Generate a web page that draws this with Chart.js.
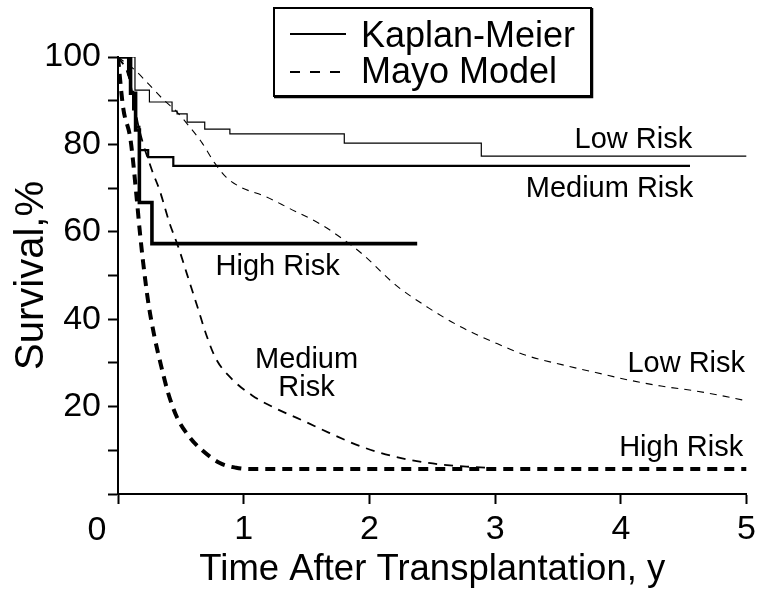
<!DOCTYPE html>
<html>
<head>
<meta charset="utf-8">
<script src="https://cdn.jsdelivr.net/npm/chart.js@4/dist/chart.umd.min.js"></script>
<style>
  html, body { margin: 0; padding: 0; background: #ffffff; }
  #c { display: block; }
</style>
</head>
<body>
<canvas id="c" width="761" height="595"></canvas>
<script>
// ---------------- DATA ----------------
const xTicks = [0, 1, 2, 3, 4, 5];
const yTickLabels = [20, 40, 60, 80, 100];

// Kaplan-Meier (solid, step) : time (y) and survival (%)
const kmLowT  = [0, 0.135, 0.25, 0.43, 0.47, 0.55, 0.69, 0.89, 1.80, 2.89, 5.0];
const kmLowS  = [100, 92.4, 89.7, 87.6, 87.0, 85.1, 83.5, 82.4, 80.3, 77.3, 77.3];
const kmMedT  = [0, 0.08, 0.10, 0.12, 0.14, 0.17, 0.24, 0.44, 4.55];
const kmMedS  = [100, 96, 92, 88, 84, 78.7, 77.1, 75.1, 75.1];
const kmHighT = [0, 0.10, 0.14, 0.17, 0.27, 2.38];
const kmHighS = [100, 91.7, 83.3, 66.7, 57.3, 57.3];

// Mayo Model (dashed, smooth)
const mayoLowT  = [0, 0.135, 0.25, 0.37, 0.47, 0.57, 0.67, 0.77, 0.86, 0.97, 1.18, 1.36, 1.62, 1.78, 1.94, 2.21, 2.47, 2.73, 3.00, 3.26, 3.53, 3.80, 4.06, 4.32, 4.59, 4.89, 5.0];
const mayoLowS  = [100, 97, 93.6, 90, 87.4, 84, 80.3, 75.7, 72.5, 70.3, 68, 65.4, 61.6, 58.5, 55, 47.8, 42.6, 38.2, 34.6, 31.6, 29.6, 27.8, 26.1, 24.7, 23.6, 22, 21.3];
const mayoMedT  = [0, 0.08, 0.17, 0.27, 0.33, 0.41, 0.48, 0.55, 0.63, 0.71, 0.78, 0.91, 1.07, 1.26, 1.47, 1.68, 1.94, 2.21, 2.47, 2.81, 3.0];
const mayoMedS  = [100, 96, 83.3, 74.1, 69.6, 62, 56.5, 50.2, 43, 35.8, 30.9, 26.2, 22.5, 19.5, 16.8, 14, 10.8, 8.5, 7.1, 6.2, 5.9];
const mayoHighT = [0, 0.04, 0.10, 0.15, 0.17, 0.20, 0.24, 0.29, 0.35, 0.40, 0.47, 0.57, 0.67, 0.81, 0.94, 1.05, 5.0];
const mayoHighS = [100, 88.6, 81, 67.3, 61.1, 53, 44, 36, 28.5, 23, 17.5, 13, 10, 7.1, 6, 5.7, 5.7];

// Curve labels (text, time, survival)
const curveLabelText = ['Low Risk', 'Medium Risk', 'High Risk', 'Medium', 'Risk', 'Low Risk', 'High Risk'];
const curveLabelT    = [4.10, 3.91, 1.27, 1.50, 1.50, 4.52, 4.48];
const curveLabelS    = [81.6, 70.3, 52.6, 31.3, 24.7, 30.2, 11.0];

const legendLabels = ['Kaplan-Meier', 'Mayo Model'];
const xTitle = 'Time After Transplantation, y';
const yTitle = 'Survival,%';

// ---------------- BUILD ----------------
const FONT = '"Liberation Sans", Arial, Helvetica, sans-serif';
const toPts = (ts, ss) => ts.map((t, i) => ({ x: t, y: ss[i] }));

function kmSet(ts, ss, w) {
  return { data: toPts(ts, ss), borderColor: '#000', borderWidth: w, stepped: 'before',
           pointRadius: 0, fill: false, borderJoinStyle: 'miter', borderCapStyle: 'butt' };
}
function mayoSet(ts, ss, w, dash) {
  return { data: toPts(ts, ss), borderColor: '#000', borderWidth: w, borderDash: dash,
           cubicInterpolationMode: 'monotone', pointRadius: 0, fill: false, borderCapStyle: 'butt' };
}

const labelsPlugin = {
  id: 'labelsPlugin',
  afterDraw(chart) {
    const ctx = chart.ctx;
    const xs = chart.scales.x, ys = chart.scales.y;
    ctx.save();
    ctx.fillStyle = '#000';
    // curve labels
    const sz = 29;
    ctx.font = sz + 'px ' + FONT;
    ctx.textAlign = 'center';
    ctx.textBaseline = 'alphabetic';
    curveLabelText.forEach((txt, i) => {
      const px = xs.getPixelForValue(curveLabelT[i]);
      const py = ys.getPixelForValue(curveLabelS[i]) + 0.358 * sz;
      ctx.fillText(txt, px, py);
    });
    // origin "0" label, set left of the corner
    ctx.font = '34px ' + FONT;
    ctx.textAlign = 'center';
    ctx.textBaseline = 'alphabetic';
    ctx.fillText('0', xs.getPixelForValue(0) - 21, 540);

    // legend box
    const bx = 274, by = 8, bw = 317, bh = 88;
    ctx.fillStyle = '#fff';
    ctx.fillRect(bx, by, bw, bh);
    ctx.strokeStyle = '#000';
    ctx.lineWidth = 2;
    ctx.strokeRect(bx, by, bw, bh);
    ctx.lineWidth = 1.5;
    ctx.beginPath();
    ctx.moveTo(bx + bw + 1.5, by); ctx.lineTo(bx + bw + 1.5, by + bh + 1.5);
    ctx.lineTo(bx, by + bh + 1.5);
    ctx.stroke();
    // legend samples
    ctx.lineWidth = 2;
    ctx.setLineDash([]);
    ctx.beginPath(); ctx.moveTo(290, 34); ctx.lineTo(346, 34); ctx.stroke();
    ctx.setLineDash([10, 10]);
    ctx.beginPath(); ctx.moveTo(290, 72); ctx.lineTo(346, 72); ctx.stroke();
    ctx.setLineDash([]);
    ctx.fillStyle = '#000';
    ctx.font = '36px ' + FONT;
    ctx.textAlign = 'left';
    ctx.textBaseline = 'alphabetic';
    ctx.fillText(legendLabels[0], 361, 47);
    ctx.fillText(legendLabels[1], 361, 83);
    ctx.restore();
  }
};

new Chart(document.getElementById('c'), {
  type: 'line',
  data: {
    datasets: [
      kmSet(kmLowT, kmLowS, 1.2),
      kmSet(kmMedT, kmMedS, 2.2),
      kmSet(kmHighT, kmHighS, 3.6),
      mayoSet(mayoLowT, mayoLowS, 1.1, [7, 6]),
      mayoSet(mayoMedT, mayoMedS, 1.8, [9, 7]),
      mayoSet(mayoHighT, mayoHighS, 4, [10, 7])
    ]
  },
  options: {
    responsive: false,
    animation: false,
    layout: { padding: { top: 57, right: 12, left: 0, bottom: 0 } },
    plugins: { legend: { display: false }, tooltip: { enabled: false } },
    scales: {
      x: {
        type: 'linear', min: 0, max: 5,
        afterFit(s) { s.height = 101; },
        afterBuildTicks(s) { s.ticks = xTicks.map(v => ({ value: v })); },
        grid: { drawOnChartArea: false, drawTicks: true, tickLength: 10, tickColor: '#000', tickWidth: 2 },
        border: { display: true, color: '#000', width: 2 },
        ticks: { color: '#000', padding: 5, maxRotation: 0, autoSkip: false,
                 font: { family: FONT, size: 34 },
                 callback: v => (v === 0 ? '' : String(v)) },
        title: { display: true, text: xTitle, color: '#000',
                 font: { family: FONT, size: 36.5 }, padding: { top: 0, bottom: 3 } }
      },
      y: {
        type: 'linear', min: 0, max: 100,
        afterFit(s) { s.width = 118; },
        grid: { drawOnChartArea: false, drawTicks: true, tickLength: 10, tickColor: '#000', tickWidth: 2 },
        border: { display: true, color: '#000', width: 2 },
        ticks: { color: '#000', padding: 7, stepSize: 10, autoSkip: false,
                 font: { family: FONT, size: 34 },
                 callback: v => (yTickLabels.includes(v) ? String(v) : '') },
        title: { display: true, text: yTitle, color: '#000',
                 font: { family: FONT, size: 40 }, padding: { top: 8, bottom: 0 } }
      }
    }
  },
  plugins: [labelsPlugin]
});
</script>
</body>
</html>
